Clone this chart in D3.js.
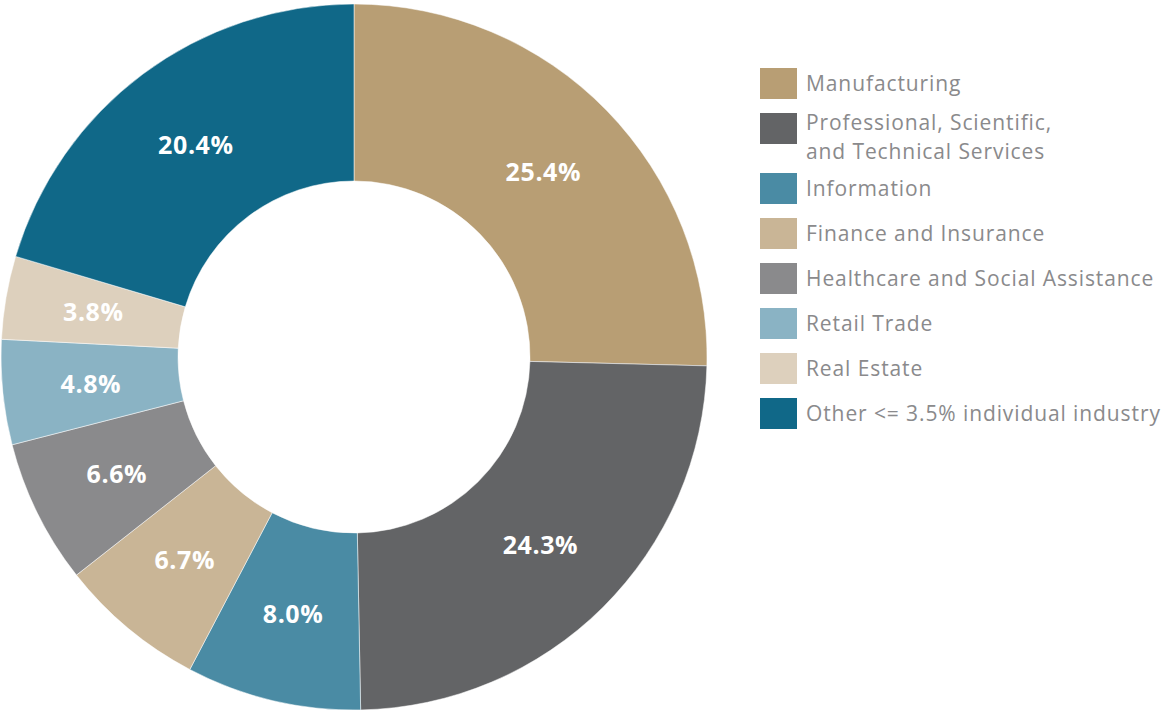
<!DOCTYPE html>
<html>
<head>
<meta charset="utf-8">
<script src="https://cdn.jsdelivr.net/npm/d3@7"></script>
<style>
  body { margin: 0; background: #fff; }
  svg { display: block; }
  .slice-label { font-family: "Open Sans", sans-serif; font-weight: 700; font-size: 25px; letter-spacing: 0.6px; fill: #fff; }
  .legend-text { font-family: "Open Sans", sans-serif; font-size: 21px; letter-spacing: 0.9px; fill: #8a8a8c; }
</style>
</head>
<body>
<div id="chart"></div>
<script>
var width = 1168, height = 711;

// industry shares (%)
var industries = [
  "Manufacturing",
  "Professional, Scientific,|and Technical Services",
  "Information",
  "Finance and Insurance",
  "Healthcare and Social Assistance",
  "Retail Trade",
  "Real Estate",
  "Other <= 3.5% individual industry"
];
var shares = [25.4, 24.3, 8.0, 6.7, 6.6, 4.8, 3.8, 20.4];
var colors = ["#b89e74", "#636466", "#4a8ba4", "#c9b596", "#8a8a8c", "#8ab3c4", "#ddd0bd", "#106888"];

var data = industries.map(function(name, i) {
  return {name: name, value: shares[i], color: colors[i]};
});

var svg = d3.select("#chart")
            .append("svg")
            .attr("width", width)
            .attr("height", height);

var cx = 354, cy = 357,
    outerR = 353, innerR = 176;

var pie = d3.pie()
            .sort(null)
            .value(function(d) { return d.value; });

var arc = d3.arc()
            .innerRadius(innerR)
            .outerRadius(outerR);

var donut = svg.append("g")
               .attr("transform", "translate(" + cx + "," + cy + ")");

var slices = donut.selectAll("g")
                  .data(pie(data))
                  .enter().append("g");

slices.append("path")
      .attr("d", arc)
      .attr("fill", function(d) { return d.data.color; })
      .attr("stroke", "#fff")
      .attr("stroke-width", 0.5);

slices.append("text")
      .attr("class", "slice-label")
      .attr("transform", function(d) { return "translate(" + arc.centroid(d) + ")"; })
      .attr("text-anchor", "middle")
      .attr("dy", "0.36em")
      .text(function(d) { return d.data.value.toFixed(1) + "%"; });

// legend
var LEGEND_X = 760, LEGEND_Y = 68;
const RECT_W = 37, RECT_H = 31;
const LINE_H = 29, STEP = 45;

var y = LEGEND_Y;
data.forEach(function(d) {
  var lines = d.name.split("|");
  var g = svg.append("g")
             .attr("transform", "translate(" + LEGEND_X + "," + y + ")");
  g.append("rect")
   .attr("width", RECT_W)
   .attr("height", RECT_H)
   .attr("fill", d.color);
  var t = g.append("text")
           .attr("class", "legend-text");
  t.selectAll("tspan")
   .data(lines)
   .enter().append("tspan")
   .attr("x", RECT_W + 9)
   .attr("y", function(l, i) { return (lines.length > 1 ? 10 : 16) + i * LINE_H; })
   .attr("dy", "0.35em")
   .text(function(l) { return l; });
  y += STEP + (lines.length - 1) * 15;
});
</script>
</body>
</html>
